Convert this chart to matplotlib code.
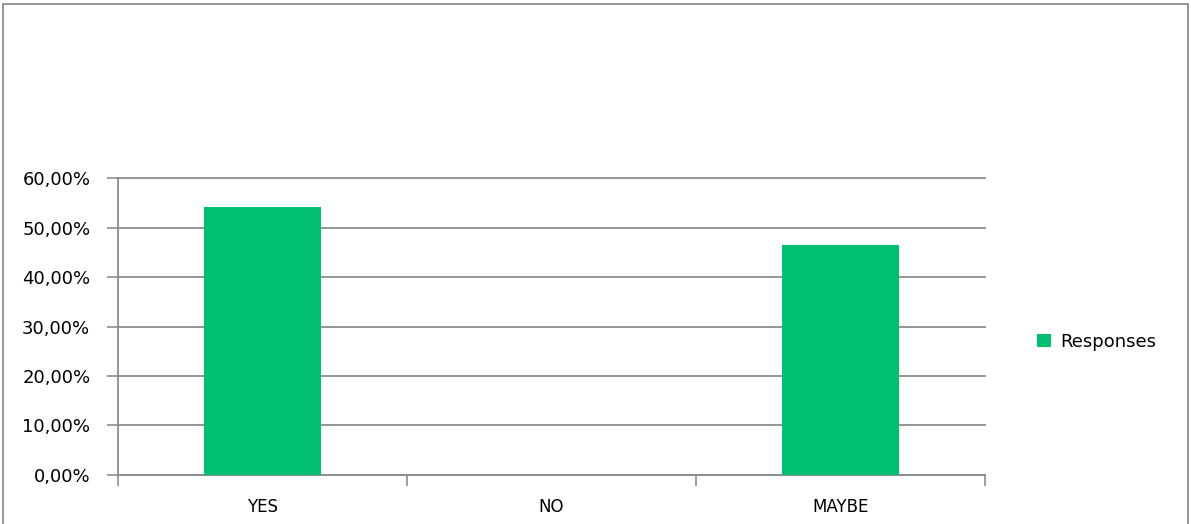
import matplotlib.pyplot as plt
from matplotlib.patches import Rectangle
from matplotlib.ticker import FuncFormatter
import numpy as np

categories = ['YES', 'NO', 'MAYBE']
responses = [54.2, 0.0, 46.5]
series_name = 'Responses'

bar_color = '#00BF6F'
grid_color = '#8C8C8C'

plt.rcParams['font.family'] = ['DejaVu Sans']

fig = plt.figure(figsize=(11.91, 5.24), dpi=100)
ax = fig.add_axes([0.0991, 0.0941, 0.7280, 0.5656])

x = np.arange(len(categories))
ax.bar(x, responses, width=0.405, color=bar_color, label=series_name, zorder=3)

ax.set_xlim(-0.5, len(categories) - 0.5)
ax.set_ylim(0, 60)
ax.set_yticks(np.arange(0, 61, 10))
ax.yaxis.set_major_formatter(FuncFormatter(lambda v, p: f'{v:.2f}%'.replace('.', ',')))

# category ticks sit on the boundaries, labels in the middle
ax.set_xticks(np.arange(-0.5, len(categories)), minor=False)
ax.set_xticklabels([])
ax.set_xticks(x, minor=True)
ax.set_xticklabels(categories, minor=True)
ax.tick_params(axis='x', which='major', length=8, width=1.2, color=grid_color, direction='out')
ax.tick_params(axis='x', which='minor', length=0, pad=17, labelsize=12)
ax.tick_params(axis='y', length=8, width=1.2, color=grid_color, pad=12, labelsize=13)

ax.grid(axis='y', color=grid_color, linewidth=1.3, zorder=0)
for gl in ax.get_ygridlines():
    gl.set_clip_on(False)
for s in ['top', 'right']:
    ax.spines[s].set_visible(False)
for s in ['left', 'bottom']:
    ax.spines[s].set_color(grid_color)
    ax.spines[s].set_linewidth(1.3)

ax.legend(loc='center left', bbox_to_anchor=(1030 / 1191, 1 - 342 / 524),
          bbox_transform=fig.transFigure, frameon=False, fontsize=13,
          handlelength=0.75, handleheight=0.75, handletextpad=0.5, borderaxespad=0)

fig.patches.append(Rectangle((3 / 1191, -0.01), 1185 / 1191, 1 - 4 / 524 + 0.01,
                             transform=fig.transFigure, fill=False,
                             edgecolor=grid_color, linewidth=1.3))

fig.savefig('out.png', dpi=100)
